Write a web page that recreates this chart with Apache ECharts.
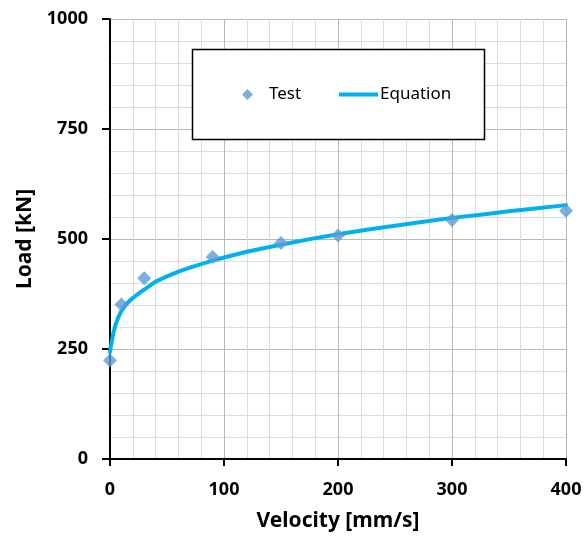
<!DOCTYPE html>
<html>
<head>
<meta charset="utf-8">
<script src="https://cdn.jsdelivr.net/npm/echarts@6/dist/echarts.min.js"></script>
<style>
  html, body { margin: 0; padding: 0; background: #fff; }
  #chart { width: 586px; height: 537px; }
</style>
</head>
<body>
<div id="chart"></div>
<script>
// Measured loads at each test velocity
const testVelocity = [0, 10, 30, 90, 150, 200, 300, 400];
const testLoad = [224, 351, 411, 459, 491, 508, 543, 564];

// Fitted equation curve, sampled along velocity
const eqVelocity = [0, 0.5, 1, 2, 3, 5, 7, 10, 15, 20, 25, 30, 40, 50, 60, 70, 80, 90, 100,
  120, 140, 160, 180, 200, 225, 250, 275, 300, 325, 350, 375, 400];
const eqLoad = [243, 252, 259, 273, 287, 306, 320, 337, 354, 366, 376, 385, 403, 415, 426, 435, 443, 451, 458,
  471, 482, 492, 502, 511, 521, 530, 539, 548, 555, 563, 570, 577];

const xTicks = [0, 100, 200, 300, 400];
const yTicks = [0, 250, 500, 750, 1000];

const FONT = '"Noto Sans", "Open Sans", sans-serif';

const chart = echarts.init(document.getElementById('chart'), null, { renderer: 'canvas' });

const testData = testVelocity.map((v, i) => [v, testLoad[i]]);
const eqData = eqVelocity.map((v, i) => [v, eqLoad[i]]);

const axisCommon = {
  type: 'value',
  nameLocation: 'middle',
  nameTextStyle: { fontFamily: FONT, fontSize: 21, fontWeight: 'bold', color: '#000' },
  axisLine: { show: true, onZero: false, lineStyle: { color: '#000', width: 2 } },
  axisLabel: {
    margin: 22, fontFamily: FONT, fontSize: 18, fontWeight: 'bold', color: '#000',
    formatter: (v) => String(v)
  },
  splitLine: { show: true, lineStyle: { color: '#b8b8b8', width: 1 } },
  minorTick: { show: false, splitNumber: 5 },
  minorSplitLine: { show: true, lineStyle: { color: '#dcdcdc', width: 1 } }
};

chart.setOption({
  animation: false,
  backgroundColor: '#ffffff',
  textStyle: { fontFamily: FONT },
  grid: { left: 110, right: 20, top: 19, bottom: 78, containLabel: false },
  xAxis: Object.assign({}, axisCommon, {
    min: xTicks[0],
    max: xTicks[xTicks.length - 1],
    interval: xTicks[1] - xTicks[0],
    name: 'Velocity [mm/s]',
    nameGap: 52,
    axisTick: { show: true, length: 7, lineStyle: { color: '#000', width: 2 } }
  }),
  yAxis: Object.assign({}, axisCommon, {
    min: yTicks[0],
    max: yTicks[yTicks.length - 1],
    interval: yTicks[1] - yTicks[0],
    name: 'Load [kN]',
    nameRotate: 90,
    nameGap: 69,
    axisTick: { show: true, length: 8, lineStyle: { color: '#000', width: 2 } }
  }),
  graphic: [{
    type: 'rect',
    z: 50,
    shape: { x: 192.5, y: 49.5, width: 292, height: 90 },
    style: { fill: '#ffffff', stroke: '#000000', lineWidth: 1.5 }
  }],
  legend: [{
    data: [{ name: 'Test', icon: 'diamond' }],
    left: 242,
    top: 86,
    z: 60,
    padding: 0,
    itemWidth: 11,
    itemHeight: 11,
    textStyle: { fontFamily: FONT, fontSize: 17, color: '#000', padding: [0, 0, 0, 11] }
  }, {
    data: [{ name: 'Equation', icon: 'rect' }],
    left: 339,
    top: 86,
    z: 60,
    padding: 0,
    itemWidth: 39,
    itemHeight: 4,
    textStyle: { fontFamily: FONT, fontSize: 17, color: '#000', padding: [0, 0, 0, -3] }
  }],
  series: [{
    name: 'Equation',
    type: 'line',
    data: eqData,
    smooth: false,
    symbol: 'none',
    z: 3,
    lineStyle: { color: '#00b0f0', width: 4, cap: 'round', join: 'round' },
    itemStyle: { color: '#00b0f0' }
  }, {
    name: 'Test',
    type: 'scatter',
    data: testData,
    symbol: 'diamond',
    symbolSize: 14,
    clip: false,
    z: 4,
    itemStyle: { color: '#5b9bd5' }
  }]
});
</script>
</body>
</html>
